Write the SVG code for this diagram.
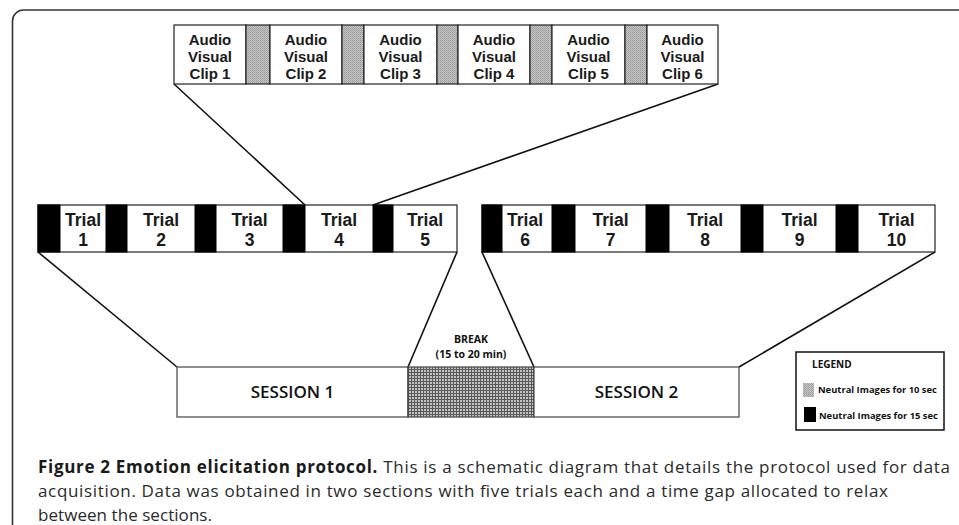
<svg xmlns="http://www.w3.org/2000/svg" width="959" height="525" viewBox="0 0 959 525">
<defs>
<pattern id="p10" width="2" height="2" patternUnits="userSpaceOnUse">
<rect width="2" height="2" fill="#c4c4c4"/>
<rect width="1" height="1" fill="#9a9a9a"/>
<rect x="1" y="1" width="1" height="1" fill="#a8a8a8"/>
</pattern>
<pattern id="pbreak" width="3" height="3" patternUnits="userSpaceOnUse">
<rect width="3" height="3" fill="#c2c2c2"/>
<rect width="3" height="1" fill="#5a5a5a"/>
<rect width="1" height="3" fill="#5a5a5a"/>
</pattern>
<style>
.frame{fill:none;stroke:#333;stroke-width:1.6}
.box{fill:#fff;stroke:#222;stroke-width:1.2}
.g10{fill:url(#p10);stroke:#222;stroke-width:1.2}
.g15{fill:#000;stroke:#000;stroke-width:1}
.lbl{font-family:"Liberation Sans",Arial,sans-serif;font-weight:700;fill:#1a1a1a;text-anchor:middle}
.clip{font-size:15px}
.trial{font-size:17.5px}
.sess{font-family:"Open Sans","DejaVu Sans",sans-serif;font-weight:600;font-size:17px;fill:#111;text-anchor:middle}
.small{font-family:"Open Sans","DejaVu Sans",sans-serif;font-weight:700;fill:#111}
.conn{fill:none;stroke:#111;stroke-width:1.6}
.cap{font-family:"Open Sans","DejaVu Sans",sans-serif;font-size:17px;fill:#2a2a2a}
.capb{font-weight:700;fill:#1a1a1a}
</style>
</defs>
<rect width="959" height="525" fill="#fff"/>
<path class="frame" d="M12.5 525 V21 A11 11 0 0 1 23.5 10 H959"/>

<g id="connectors">
<line class="conn" x1="174" y1="84" x2="305" y2="205"/>
<line class="conn" x1="718" y1="84" x2="373" y2="205"/>
<line class="conn" x1="38" y1="252" x2="177" y2="367"/>
<line class="conn" x1="457" y1="252" x2="408" y2="367"/>
<line class="conn" x1="482" y1="252" x2="534" y2="367"/>
<line class="conn" x1="935" y1="252" x2="739" y2="367"/>
</g>

<g id="clips">
<g id="clip1"><rect class="box" x="174" y="25" width="72" height="59"/><text class="lbl clip" x="210" y="45">Audio<tspan x="210" dy="17">Visual</tspan><tspan x="210" dy="17">Clip 1</tspan></text></g>
<rect class="g10" x="246" y="25" width="24" height="59"/>
<g id="clip2"><rect class="box" x="270" y="25" width="72" height="59"/><text class="lbl clip" x="306" y="45">Audio<tspan x="306" dy="17">Visual</tspan><tspan x="306" dy="17">Clip 2</tspan></text></g>
<rect class="g10" x="342" y="25" width="22" height="59"/>
<g id="clip3"><rect class="box" x="364" y="25" width="73" height="59"/><text class="lbl clip" x="400.5" y="45">Audio<tspan x="400.5" dy="17">Visual</tspan><tspan x="400.5" dy="17">Clip 3</tspan></text></g>
<rect class="g10" x="437" y="25" width="21" height="59"/>
<g id="clip4"><rect class="box" x="458" y="25" width="72" height="59"/><text class="lbl clip" x="494" y="45">Audio<tspan x="494" dy="17">Visual</tspan><tspan x="494" dy="17">Clip 4</tspan></text></g>
<rect class="g10" x="530" y="25" width="22" height="59"/>
<g id="clip5"><rect class="box" x="552" y="25" width="73" height="59"/><text class="lbl clip" x="588.5" y="45">Audio<tspan x="588.5" dy="17">Visual</tspan><tspan x="588.5" dy="17">Clip 5</tspan></text></g>
<rect class="g10" x="625" y="25" width="22" height="59"/>
<g id="clip6"><rect class="box" x="647" y="25" width="71" height="59"/><text class="lbl clip" x="682.5" y="45">Audio<tspan x="682.5" dy="17">Visual</tspan><tspan x="682.5" dy="17">Clip 6</tspan></text></g>
</g>

<g id="trials-session1">
<rect class="box" x="38" y="205" width="419" height="47"/>
<rect class="g15" x="38" y="205" width="22" height="47"/>
<g id="trial1"><text class="lbl trial" x="83" y="226">Trial<tspan x="83" dy="20">1</tspan></text></g>
<rect class="g15" x="106" y="205" width="21" height="47"/>
<g id="trial2"><text class="lbl trial" x="161" y="226">Trial<tspan x="161" dy="20">2</tspan></text></g>
<rect class="g15" x="195" y="205" width="21" height="47"/>
<g id="trial3"><text class="lbl trial" x="249.5" y="226">Trial<tspan x="249.5" dy="20">3</tspan></text></g>
<rect class="g15" x="283" y="205" width="22" height="47"/>
<g id="trial4"><text class="lbl trial" x="339" y="226">Trial<tspan x="339" dy="20">4</tspan></text></g>
<rect class="g15" x="373" y="205" width="20" height="47"/>
<g id="trial5"><text class="lbl trial" x="425" y="226">Trial<tspan x="425" dy="20">5</tspan></text></g>
</g>

<g id="trials-session2">
<rect class="box" x="482" y="205" width="453" height="47"/>
<rect class="g15" x="482" y="205" width="20" height="47"/>
<g id="trial6"><text class="lbl trial" x="525" y="226">Trial<tspan x="525" dy="20">6</tspan></text></g>
<rect class="g15" x="552" y="205" width="23" height="47"/>
<g id="trial7"><text class="lbl trial" x="610.5" y="226">Trial<tspan x="610.5" dy="20">7</tspan></text></g>
<rect class="g15" x="646" y="205" width="23" height="47"/>
<g id="trial8"><text class="lbl trial" x="705" y="226">Trial<tspan x="705" dy="20">8</tspan></text></g>
<rect class="g15" x="741" y="205" width="22" height="47"/>
<g id="trial9"><text class="lbl trial" x="799.5" y="226">Trial<tspan x="799.5" dy="20">9</tspan></text></g>
<rect class="g15" x="836" y="205" width="22" height="47"/>
<g id="trial10"><text class="lbl trial" x="896.5" y="226">Trial<tspan x="896.5" dy="20">10</tspan></text></g>
</g>

<g id="session1"><rect class="box" x="177" y="367" width="231" height="50" style="stroke:#444"/><text class="sess" x="292.5" y="398">SESSION 1</text></g>
<g id="break"><rect x="408" y="367" width="126" height="50" fill="url(#pbreak)" stroke="#444" stroke-width="1.2"/>
<text class="small" x="471" y="343" font-size="10.5" text-anchor="middle">BREAK<tspan x="471" dy="15">(15 to 20 min)</tspan></text></g>
<g id="session2"><rect class="box" x="534" y="367" width="205" height="50" style="stroke:#444"/><text class="sess" x="636.5" y="398">SESSION 2</text></g>

<g id="legend">
<rect x="796" y="352" width="148" height="78" fill="#fff" stroke="#111" stroke-width="1.5"/>
<text class="small" x="812" y="368" font-size="10">LEGEND</text>
<rect x="803" y="383" width="11" height="14" fill="url(#p10)"/>
<text class="small" x="818" y="393" font-size="9.4">Neutral Images for 10 sec</text>
<rect x="804" y="407" width="12" height="15" fill="#000"/>
<text class="small" x="819" y="419" font-size="9.4">Neutral Images for 15 sec</text>
</g>

<g id="caption">
<text class="cap" x="38" y="473" textLength="912" lengthAdjust="spacing"><tspan class="capb">Figure 2 Emotion elicitation protocol.</tspan> This is a schematic diagram that details the protocol used for data</text>
<text class="cap" x="38" y="497" textLength="850" lengthAdjust="spacing">acquisition. Data was obtained in two sections with five trials each and a time gap allocated to relax</text>
<text class="cap" x="38" y="521" textLength="174" lengthAdjust="spacing">between the sections.</text>
</g>
</svg>
